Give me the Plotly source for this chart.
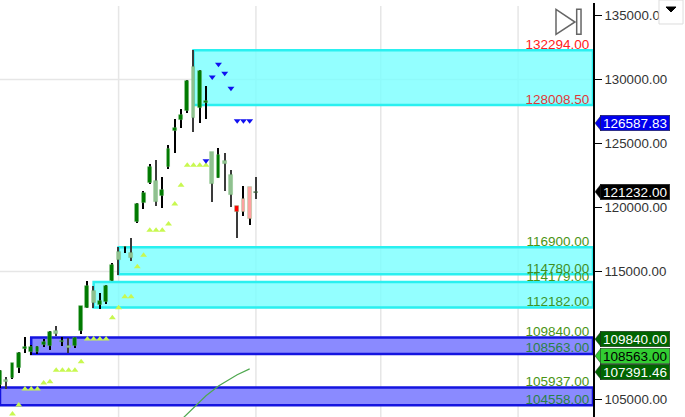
import plotly.graph_objects as go

# candles
idx = list(range(42))
opens = [106133, 106342, 106654, 107435, 108920, 108685, 108685, 109258, 109206, 110117,
         109500, 108998, 109206, 110378, 112122, 113503, 112383, 112591, 114258, 115898,
         116888, 116029, 118868, 120326, 121889, 120457, 120925, 123191, 126003, 126862,
         127565, 127019, 127748, 128138, 121837, 122279, 123373, 120977, 120092, 119675,
         119077, 121134]
closes = [107227, 106524, 107826, 108607, 109076, 109076, 109076, 109493, 110248, 110352,
          109540, 109206, 109831, 112279, 113867, 112513, 112695, 113867, 115534, 116549,
          116940, 116419, 120274, 121160, 123191, 122097, 121368, 124571, 126237, 127227,
          129857, 131003, 130664, 128321, 124363, 124102, 123607, 122540, 119649, 120665,
          121576, 121232]
highs = [107300, 106784, 107878, 108737, 109857, 109258, 109180, 109701, 110352, 110743,
         109909, 109831, 109909, 112279, 114258, 113867, 113294, 113945, 115690, 116888,
         117018, 117591, 120378, 121316, 123399, 123712, 122358, 124883, 126941, 127722,
         129961, 132294, 130742, 129492, 124363, 124623, 124232, 122930, 120092, 121680,
         121576, 122358]
lows = [105899, 105795, 106576, 107045, 108607, 108477, 108529, 109076, 108867, 109961,
        109180, 108659, 108998, 110117, 112122, 112122, 112097, 112461, 114258, 114727,
        116419, 115820, 118816, 119858, 121810, 120118, 119936, 122983, 124232, 126185,
        127357, 125873, 126576, 126888, 120405, 122279, 121290, 120014, 117592, 119337,
        118660, 120639]
# d dark green, l light green, r red, p pink, k black
kinds = ["d", "l", "d", "d", "d", "d", "d", "d", "d", "l", "d", "l", "d", "d",
         "d", "l", "d", "d", "d", "l", "d", "l", "d", "d", "d", "l", "d", "d",
         "d", "d", "d", "l", "d", "d", "l", "d", "l", "l", "r", "p", "p", "k"]

up_x = [2, 3, 4, 5, 6, 7, 8, 9, 10, 11, 12, 13, 14, 15, 16, 17, 18, 19, 20, 21, 22, 23,
        24, 25, 26, 27, 28, 29, 30, 31, 32, 33]
up_y = [103868, 104571, 105821, 105821, 105821, 106289, 106394, 107279, 107279, 107279,
        107279, 107956, 109727, 109727, 109727, 109727, 111393, 112175, 113034, 113034,
        115378, 116263, 118217, 118217, 118217, 118712, 120274, 121733, 123295, 123295,
        123295, 123295]
down_x = [33, 34, 35, 36, 37, 38, 39, 40]
down_y = [123660, 130196, 131185, 130482, 129310, 126784, 126784, 126784]

ma_x = [29, 30, 31, 33, 35, 38, 40]
ma_y = [103398, 103867, 104336, 105297, 106055, 106937, 107391]

# zones: start bar, low, high
cyan_zones = [(31, 128008.5, 132294), (19, 114780, 116900), (15, 112182, 114179)]
blue_zones = [(5, 108563, 109840), (0, 104558, 105937)]

# 114179 comes before 114780 so the later one is drawn over it
level_vals = [132294, 128008.5, 116900, 114179, 114780, 112182, 109840, 108563, 105937, 104558]
level_text = ["132294.00", "128008.50", "116900.00", "114179.00", "114780.00", "112182.00",
              "109840.00", "108563.00", "105937.00", "104558.00"]
level_cols = ["#ff2020", "#e03838", "#4a9414", "#4a9414", "#3f8f1f", "#3a9428",
              "#4a9414", "#2a8048", "#4a9414", "#2a8048"]

tag_text = ["126587.83", "121232.00", "109840.00", "108563.00", "107391.46"]
tag_y = [126587.83, 121232.00, 109715, 108407, 107156]  # the lower tags get pushed apart
tag_bg = ["#0000ee", "#000000", "#006400", "#32cd32", "#006400"]
tag_fg = ["white", "white", "white", "black", "white"]

tick_vals = [105000, 115000, 120000, 125000, 130000, 135000]
tick_text = ["105000.00", "115000.00", "120000.00", "125000.00", "130000.00", "135000.00"]
grid_x = [19, 41, 61, 83]
grid_y = [115000, 130000]

X_MAX = 95
body_cols = {"d": "#007a00", "l": "#8fc08f", "r": "#ff0000", "p": "#ffa0a0", "k": "#000000"}
wick_cols = {"d": "#000000", "l": "#3a3a3a", "r": "#3a3a3a", "p": "#000000", "k": "#3a3a3a"}

fig = go.Figure()

for gx in grid_x:
    fig.add_shape(type="line", x0=gx, x1=gx, y0=0, y1=0.993, yref="paper",
                  line=dict(color="#e6e6e6", width=1.5), layer="below")
for gy in grid_y:
    fig.add_shape(type="line", x0=0, x1=1, xref="paper", y0=gy, y1=gy,
                  line=dict(color="#e6e6e6", width=1.5), layer="below")

for start, lo, hi in cyan_zones:
    fig.add_shape(type="rect", x0=start, x1=X_MAX, y0=lo, y1=hi, layer="below",
                  fillcolor="rgba(120,255,255,0.8)", line=dict(color="#2af0f0", width=2.5))
for start, lo, hi in blue_zones:
    fig.add_shape(type="rect", x0=start, x1=X_MAX, y0=lo, y1=hi, layer="below",
                  fillcolor="#8a8aff", line=dict(color="#1414e0", width=2.5))

# wicks under the bodies
fig.add_trace(go.Bar(x=idx, base=lows, y=[h - l for h, l in zip(highs, lows)], width=0.22,
                     marker=dict(color=[wick_cols[k] for k in kinds], line_width=0)))
body_low = [min(o, c) for o, c in zip(opens, closes)]
body_high = [max(o, c) for o, c in zip(opens, closes)]
fig.add_trace(go.Bar(x=idx, base=body_low, y=[h - l for h, l in zip(body_high, body_low)],
                     width=0.62,
                     marker=dict(color=[body_cols[k] for k in kinds],
                                 line=dict(color="rgba(120,190,120,0.45)", width=0.8))))

fig.add_trace(go.Scatter(x=up_x, y=up_y, mode="markers",
                         marker=dict(symbol="triangle-up", size=6, color="#c8f850")))
fig.add_trace(go.Scatter(x=down_x, y=down_y, mode="markers",
                         marker=dict(symbol="triangle-down", size=6, color="#1010f0")))
fig.add_trace(go.Scatter(x=ma_x, y=ma_y, mode="lines", line=dict(color="#4fa84f", width=1.2)))

# labels sit a little lower than a plain "top" position, hence the 150
fig.add_trace(go.Scatter(x=[X_MAX - 0.6] * len(level_vals), y=[v - 150 for v in level_vals],
                         mode="text", text=level_text, textposition="top left",
                         textfont=dict(family="Liberation Sans", size=13.5, color=level_cols)))

# price tags: arrow tip as a shape, box as an annotation
for txt, val, bg, fg in zip(tag_text, tag_y, tag_bg, tag_fg):
    fig.add_shape(type="path", xref="paper", yref="y",
                  path=f"M {595 / 593} {val} L {601 / 593} {val + 600} L {601 / 593} {val - 600} Z",
                  line=dict(color="#222222", width=0.5), fillcolor=bg)
    fig.add_annotation(x=600 / 593, xref="paper", y=val, yref="y", xanchor="left",
                       text=txt, showarrow=False, bgcolor=bg, borderpad=0, width=69, height=15,
                       bordercolor="#222222", borderwidth=0.5,
                       font=dict(family="Liberation Sans", size=13.5, color=fg))

# jump-to-end icon
fig.add_shape(type="path", xref="paper", yref="paper",
              path="M 0.9376 0.9848 L 0.9376 0.9244 L 0.9696 0.9541 Z",
              line=dict(color="#666666", width=1.5), fillcolor="white")
fig.add_shape(type="rect", xref="paper", yref="paper", x0=0.9725, x1=0.9798, y0=0.9244, y1=0.9848,
              line=dict(color="#666666", width=1.5), fillcolor="white")
# menu button, it sits over the top tick label
fig.add_shape(type="rect", xref="paper", yref="paper", x0=1.1113, x1=1.1518, y0=0.9493, y1=1.0072,
              line=dict(color="#dddddd", width=1), fillcolor="white")
fig.add_shape(type="path", xref="paper", yref="paper",
              path="M 1.1231 0.9903 L 1.1400 0.9903 L 1.1315 0.9783 Z",
              line=dict(color="#000000", width=1), fillcolor="#000000")

fig.update_layout(
    width=685, height=417,
    margin=dict(l=0, r=92, t=3, b=0),
    paper_bgcolor="white", plot_bgcolor="white",
    barmode="overlay", bargap=0,
    showlegend=False,
    font=dict(family="Liberation Sans", size=13, color="#222222"),
    xaxis=dict(range=[0, X_MAX], showgrid=False, zeroline=False, showticklabels=False,
               ticks=""),
    yaxis=dict(range=[103633, 135977], side="right", showgrid=False, zeroline=False,
               tickvals=tick_vals, ticktext=tick_text, ticks="outside", ticklen=7,
               tickcolor="#000000", showline=True, linecolor="#000000", linewidth=1.5,
               tickfont=dict(family="Liberation Sans", size=13.3, color="#333333")),
)

# page body has a default margin that would push the chart off by 8px
fig.write_html("out.html", config=dict(displayModeBar=False),
               post_script="document.body.style.margin='0';")
